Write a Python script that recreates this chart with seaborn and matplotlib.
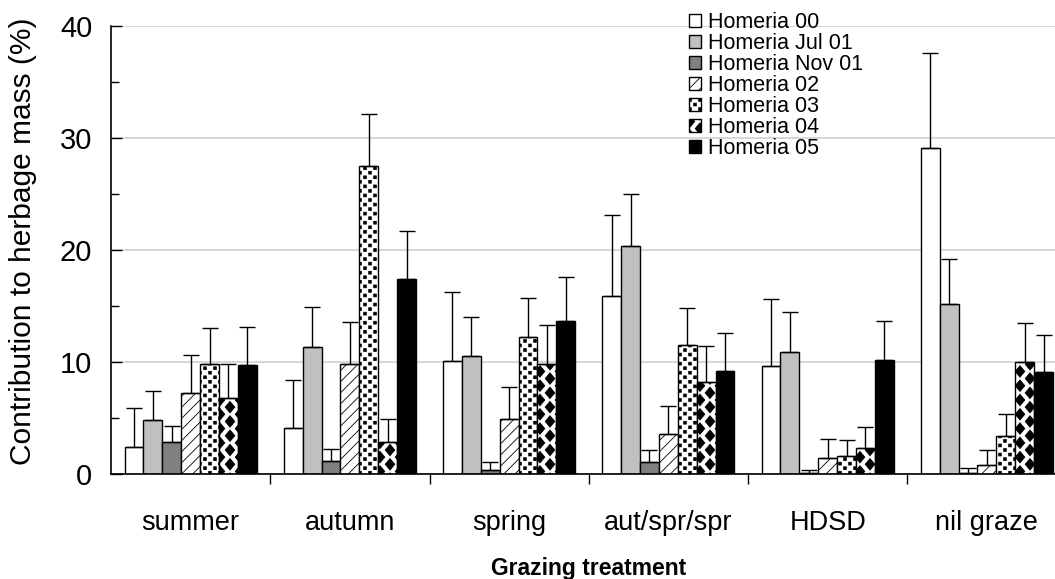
import numpy as np
import pandas as pd
import matplotlib
matplotlib.use("Agg")
import matplotlib.pyplot as plt
import matplotlib.hatch as mhatch
from matplotlib.path import Path
from matplotlib.ticker import MultipleLocator
import seaborn as sns

# ---- data -------------------------------------------------------------
treatments = ["summer", "autumn", "spring", "aut/spr/spr", "HDSD", "nil graze"]
series = ["Homeria 00", "Homeria Jul 01", "Homeria Nov 01", "Homeria 02",
          "Homeria 03", "Homeria 04", "Homeria 05"]

homeria_00 = [2.4, 4.1, 10.1, 15.9, 9.6, 29.1]
homeria_jul01 = [4.8, 11.3, 10.5, 20.4, 10.9, 15.2]
homeria_nov01 = [2.9, 1.2, 0.4, 1.1, 0.05, 0.1]
homeria_02 = [7.2, 9.8, 4.9, 3.6, 1.4, 0.8]
homeria_03 = [9.8, 27.5, 12.2, 11.5, 1.6, 3.4]
homeria_04 = [6.8, 2.9, 9.8, 8.2, 2.3, 10.0]
homeria_05 = [9.7, 17.4, 13.7, 9.2, 10.2, 9.1]

# upper standard errors
err_00 = [3.5, 4.3, 6.15, 7.2, 6.0, 8.5]
err_jul01 = [2.6, 3.6, 3.5, 4.6, 3.6, 4.0]
err_nov01 = [1.4, 1.0, 0.7, 1.0, 0.3, 0.45]
err_02 = [3.4, 3.8, 2.9, 2.5, 1.75, 1.3]
err_03 = [3.2, 4.6, 3.5, 3.35, 1.45, 2.0]
err_04 = [3.0, 2.05, 3.5, 3.2, 1.9, 3.5]
err_05 = [3.4, 4.3, 3.9, 3.4, 3.5, 3.3]

means = [homeria_00, homeria_jul01, homeria_nov01, homeria_02,
         homeria_03, homeria_04, homeria_05]
errors = [err_00, err_jul01, err_nov01, err_02, err_03, err_04, err_05]

fills = ["white", "#c0c0c0", "#808080", "white", "white", "white", "black"]
hatches = [None, None, None, "///", ".", "*", None]


# ---- custom fill patterns ---------------------------------------------
class _LatticeShapes(mhatch.HatchPatternBase):
    """Staggered lattice of filled polygons covering one hatch cell."""
    char = None
    nx = 1
    ny = 1
    shape = None

    def __init__(self, hatch, density):
        n = hatch.count(self.char) if hatch else 0
        self.centers = []
        if n:
            for r in range(2 * self.ny + 1):
                y = r / (2 * self.ny)
                shift = 0.0 if r % 2 == 0 else 0.5 / self.nx
                for c in range(-1, self.nx + 1):
                    self.centers.append((c / self.nx + shift, y))
        self.num_vertices = len(self.centers) * len(self.shape)

    def set_vertices_and_codes(self, vertices, codes):
        shape = np.asarray(self.shape, float) * [1.0 / self.nx, 1.0 / self.ny]
        k = len(shape)
        for i, (cx, cy) in enumerate(self.centers):
            vertices[i * k:(i + 1) * k] = shape + [cx, cy]
            codes[i * k] = Path.MOVETO
            codes[i * k + 1:(i + 1) * k - 1] = Path.LINETO
            codes[(i + 1) * k - 1] = Path.CLOSEPOLY


class SquareDots(_LatticeShapes):
    char = "."
    nx = 10
    ny = 11
    s, t = 0.13, 0.15
    shape = [(-s, -t), (s, -t), (s, t), (-s, t), (-s, -t)]


class Diamonds(_LatticeShapes):
    char = "*"
    nx = 5
    ny = 7
    hw, hh = 0.24, 0.40
    shape = [(hw, 0), (0, hh), (-hw, 0), (0, -hh), (hw, 0)]


mhatch._hatch_types = [t for t in mhatch._hatch_types
                       if t not in (mhatch.SmallFilledCircles, mhatch.Stars)]
mhatch._hatch_types += [SquareDots, Diamonds]

# ---- figure -----------------------------------------------------------
sns.set_theme(style="white")
plt.rcParams["font.family"] = ["Liberation Sans", "DejaVu Sans"]
plt.rcParams["hatch.linewidth"] = 0.6
for key in ("text.color", "axes.labelcolor", "xtick.color", "ytick.color"):
    plt.rcParams[key] = "black"

df = pd.DataFrame(
    [(t, s, v) for s, vals in zip(series, means) for t, v in zip(treatments, vals)],
    columns=["treatment", "series", "value"],
)

W, H = 1055, 579
fig = plt.figure(figsize=(W / 100, H / 100), dpi=100)
ax = fig.add_axes([111 / W, 105 / H, 944 / W, 448 / H])

sns.barplot(data=df, x="treatment", y="value", hue="series",
            order=treatments, hue_order=series,
            palette=dict(zip(series, fills)), saturation=1,
            errorbar=None, width=0.83, edgecolor="black", linewidth=1.0,
            legend=False, ax=ax, zorder=2)

bar_containers = list(ax.containers)
for cont, hatch, errs in zip(bar_containers, hatches, errors):
    xs, hs = [], []
    for p in cont.patches:
        if hatch:
            p.set_hatch(hatch)
        xs.append(p.get_x() + p.get_width() / 2)
        hs.append(p.get_height())
    ax.errorbar(xs, hs, yerr=[np.zeros(len(errs)), errs], fmt="none",
                ecolor="black", elinewidth=1.0, capsize=5.5, capthick=1.0,
                zorder=3)

# axes styling
ax.set_ylim(0, 40)
ax.set_xlim(-0.5, -0.5 + 944 / 159.25)
ax.yaxis.set_major_locator(MultipleLocator(10))
ax.yaxis.set_minor_locator(MultipleLocator(5))
ax.yaxis.grid(True, which="major", color="#cccccc", linewidth=1.1)
ax.set_axisbelow(True)
ax.tick_params(axis="y", which="major", direction="in", length=8, width=1.0,
               color="black", labelsize=21, pad=13.5, left=True)
ax.tick_params(axis="y", which="minor", direction="in", length=6, width=1.0,
               color="black", left=True)

ax.set_xticks(range(len(treatments)))
ax.set_xticklabels(treatments)
ax.set_xticks(np.arange(0.5, len(treatments) - 1, 1), minor=True)
ax.tick_params(axis="x", which="major", length=0, labelsize=19.5, pad=26)
ax.tick_params(axis="x", which="minor", direction="out", length=7, width=1.0,
               color="black", bottom=True)

for side in ("top", "right"):
    ax.spines[side].set_visible(False)
for side in ("left", "bottom"):
    ax.spines[side].set_color("black")
    ax.spines[side].set_linewidth(1.2)

ax.set_ylabel("Contribution to herbage mass (%)", fontsize=21.5)
ax.yaxis.set_label_coords(-0.093, 0.52)
ax.yaxis.label.set_va("center")
ax.set_xlabel("Grazing treatment", fontsize=16.5, fontweight="bold")
ax.xaxis.set_label_coords(0.506, -0.21)
ax.xaxis.label.set_va("center")

handles = [c.patches[0] for c in bar_containers]
ax.legend(handles, series, loc="upper left",
          bbox_to_anchor=(689 / W, 1 - 12 / H), bbox_transform=fig.transFigure,
          frameon=False, fontsize=15.5, handlelength=0.56, handleheight=0.56,
          handletextpad=0.3, labelspacing=0.0, borderpad=0, borderaxespad=0)

fig.savefig("out.png", dpi=100)
